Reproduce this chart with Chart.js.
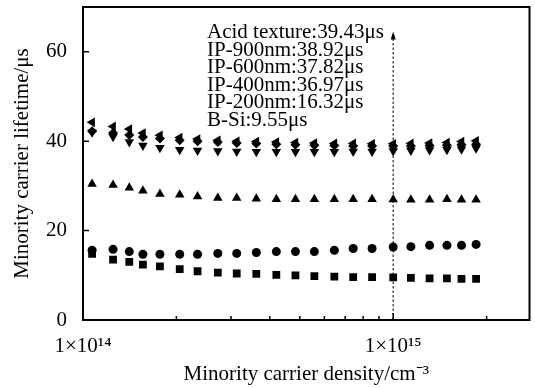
<!DOCTYPE html>
<html><head><meta charset="utf-8">
<script src="https://cdn.jsdelivr.net/npm/chart.js@4/dist/chart.umd.min.js"></script>
<style>html,body{margin:0;padding:0;background:#fff}#wrap{width:535px;height:388px;position:relative}</style>
</head><body><div id="wrap"><canvas id="c"></canvas></div>
<script>
const density = [1.07e14,1.25e14,1.41e14,1.56e14,1.77e14,2.05e14,2.34e14,2.72e14,3.13e14,3.62e14,4.20e14,4.84e14,5.57e14,6.46e14,7.43e14,8.55e14,1.0e15,1.14e15,1.31e15,1.49e15,1.66e15,1.85e15];
const acidTexture = [44.2,43.3,42.7,41.8,41.3,40.8,40.5,40.2,40.0,39.9,39.8,39.7,39.6,39.5,39.5,39.4,39.43,39.5,39.6,39.7,39.9,40.1];
const ip900 = [42.2,41.8,41.4,40.9,40.6,40.2,40.0,39.8,39.6,39.5,39.3,39.2,39.1,39.0,38.9,38.9,38.92,38.9,39.0,39.1,39.2,39.3];
const ip600 = [42.0,41.0,39.8,39.0,38.5,38.1,37.9,37.8,37.7,37.6,37.6,37.6,37.6,37.6,37.7,37.7,37.82,37.9,38.0,38.1,38.2,38.4];
const ip400 = [30.4,30.2,29.6,28.9,28.2,28.0,27.6,27.3,27.3,27.1,27.0,27.0,27.0,27.0,27.0,27.0,26.97,26.9,26.9,27.0,26.9,26.9];
const ip200 = [15.6,15.8,15.3,14.7,14.7,14.7,14.7,14.9,14.9,15.1,15.3,15.3,15.3,15.6,16.0,16.0,16.32,16.4,16.7,16.7,16.7,16.9];
const bSi = [14.8,13.5,13.0,12.4,12.0,11.4,10.9,10.6,10.4,10.3,10.1,10.0,9.8,9.7,9.6,9.6,9.55,9.4,9.3,9.3,9.2,9.2];
const annotationLines = ["Acid texture:39.43μs","IP-900nm:38.92μs","IP-600nm:37.82μs","IP-400nm:36.97μs","IP-200nm:16.32μs","B-Si:9.55μs"];
const xMajorTicks = [1e14, 1e15];
const xMajorLabels = ["1×10¹⁴", "1×10¹⁵"];
const xMinorTicks = [2e14,3e14,4e14,5e14,6e14,7e14,8e14,9e14,2e15];
const yTicks = [0,20,40,60];
const markerLine = 1e15;

const FONT = '"Liberation Serif", "Times New Roman", serif';
function pts(ys){ return density.map((x,i)=>({x:x,y:ys[i]})); }
function ds(label, ys, style, rot, r){
  return {label, data: pts(ys), pointStyle: style, rotation: rot, pointRadius: r, pointHoverRadius: r,
    backgroundColor:'#000', borderColor:'#000', borderWidth:0, showLine:false};
}

const framePlugin = {
  id:'frame',
  beforeDatasetsDraw(chart){
    const {ctx, chartArea:a, scales:{x,y}} = chart;
    const px = x.getPixelForValue(markerLine);
    const yTop = y.getPixelForValue(64.5);
    ctx.save();
    ctx.strokeStyle = '#555'; ctx.lineWidth = 1.5; ctx.setLineDash([2.5,2]);
    ctx.beginPath(); ctx.moveTo(px, a.bottom); ctx.lineTo(px, yTop+6); ctx.stroke();
    ctx.setLineDash([]);
    ctx.fillStyle = '#000';
    ctx.beginPath(); ctx.moveTo(px, yTop); ctx.lineTo(px-2.5, yTop+8); ctx.lineTo(px+2.5, yTop+8); ctx.closePath(); ctx.fill();
    ctx.restore();
  },
  afterDraw(chart){
    const {ctx, chartArea:a, scales:{x,y}} = chart;
    ctx.save();
    ctx.strokeStyle = '#000'; ctx.lineWidth = 2;
    ctx.strokeRect(a.left, a.top, a.right-a.left, a.bottom-a.top);
    ctx.lineWidth = 1.5;
    ctx.beginPath();
    yTicks.forEach(v=>{ const p=y.getPixelForValue(v); ctx.moveTo(a.left,p); ctx.lineTo(a.left+6,p); });
    xMajorTicks.forEach(v=>{ const p=x.getPixelForValue(v); ctx.moveTo(p,a.bottom); ctx.lineTo(p,a.bottom-7); });
    xMinorTicks.forEach(v=>{ const p=x.getPixelForValue(v); ctx.moveTo(p,a.bottom); ctx.lineTo(p,a.bottom-4); });
    ctx.stroke();
    ctx.fillStyle = '#000';
    ctx.font = '21px ' + FONT;
    ctx.textBaseline = 'alphabetic'; ctx.textAlign = 'left';
    annotationLines.forEach((t,i)=> ctx.fillText(t, 207, 38 + i*17.5));
    ctx.restore();
  }
};

new Chart(document.getElementById('c'), {
  type:'scatter',
  data:{ datasets:[
    ds('Acid texture', acidTexture, 'triangle', -90, 5.5),
    ds('IP-900nm', ip900, 'rectRot', 0, 5),
    ds('IP-600nm', ip600, 'triangle', 180, 5.5),
    ds('IP-400nm', ip400, 'triangle', 0, 5.5),
    ds('IP-200nm', ip200, 'circle', 0, 4.5),
    ds('B-Si', bSi, 'rect', 0, 5.5)
  ]},
  options:{
    responsive:true, maintainAspectRatio:false, animation:false,
    layout:{ padding:{ top:7, right:5, left:0, bottom:0 } },
    plugins:{ legend:{display:false}, tooltip:{enabled:false} },
    scales:{
      x:{ type:'logarithmic', min:1e14, max:2.75e15,
        afterBuildTicks(s){ s.ticks = xMajorTicks.map(v=>({value:v})); },
        afterFit(s){ s.height = 68; s.paddingLeft = 0; s.paddingRight = 0; },
        grid:{display:false, drawTicks:false}, border:{display:false},
        ticks:{ autoSkip:false, maxRotation:0, padding:14, color:'#000', font:{family:FONT, size:21},
          callback:(v)=>{ const i = xMajorTicks.indexOf(v); return i>=0 ? xMajorLabels[i] : ''; } },
        title:{ display:true, text:'Minority carrier density/cm⁻³', color:'#000', font:{family:FONT, size:21}, padding:{top:0, bottom:1} }
      },
      y:{ min:0, max:70,
        afterBuildTicks(s){ s.ticks = yTicks.map(v=>({value:v})); },
        afterFit(s){ s.width = 83; s.paddingTop = 0; s.paddingBottom = 0; },
        grid:{display:false, drawTicks:false}, border:{display:false},
        ticks:{ padding:16, color:'#000', font:{family:FONT, size:21} },
        title:{ display:true, text:'Minority carrier lifetime/μs', color:'#000', font:{family:FONT, size:21}, padding:{top:10, bottom:0} }
      }
    }
  },
  plugins:[framePlugin]
});
</script>
</body></html>
